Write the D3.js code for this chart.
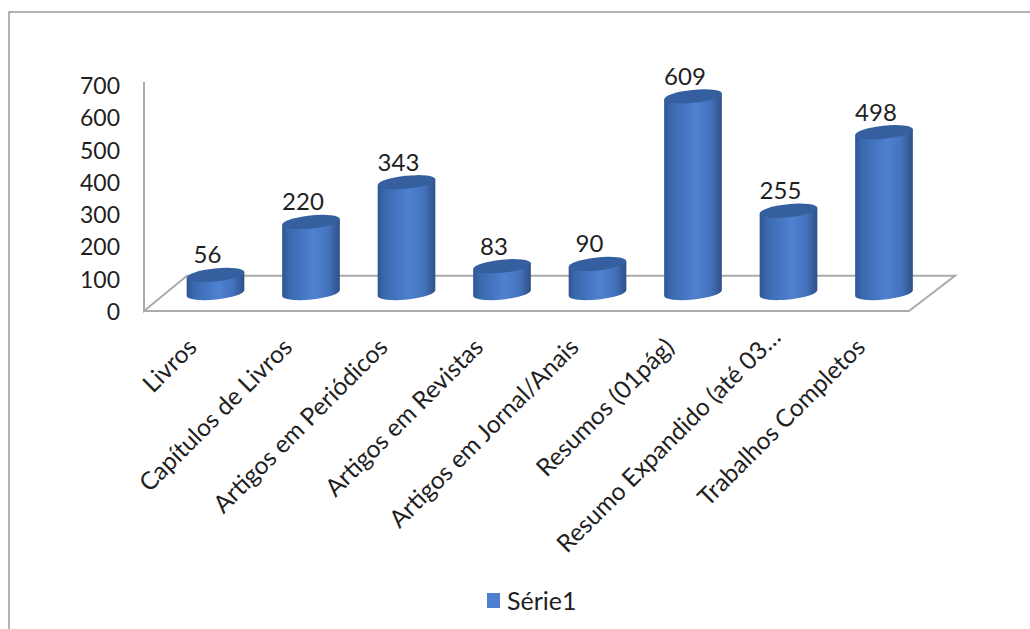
<!DOCTYPE html>
<html>
<head>
<meta charset="utf-8">
<script src="https://cdn.jsdelivr.net/npm/d3@7/dist/d3.min.js"></script>
<style>
  html, body { margin: 0; background: #fff; }
  svg { display: block; }
  text { font-family: Lato, "Open Sans", sans-serif; fill: #1f1f1f; }
</style>
</head>
<body>
<svg id="chart" width="1030" height="629"></svg>
<script>
const categories = ['Livros', 'Capítulos de Livros', 'Artigos em Periódicos', 'Artigos em Revistas',
  'Artigos em Jornal/Anais', 'Resumos (01pág)', 'Resumo Expandido (até 03…', 'Trabalhos Completos']
const values = [56, 220, 343, 83, 90, 609, 255, 498]
const yTicks = [0, 100, 200, 300, 400, 500, 600, 700]
const seriesName = 'Série1'

const svg = d3.select('#chart')
const x = d3.scaleBand().domain(categories).range([167.75, 931.75]).paddingInner(0.4).paddingOuter(0.2)
const y = d3.scaleLinear().domain([0, 700]).range([311, 85])

// the cylinders stand a bit behind the front edge of the floor
const depth = 18
const rx = 29, ry = 6.5, tilt = -6
const dx = rx * Math.cos(tilt * Math.PI / 180), dy = rx * Math.sin(tilt * Math.PI / 180)

const defs = svg.append('defs')
const grad = defs.append('linearGradient').attr('id', 'cyl')
grad.selectAll('stop')
  .data([[0, '#2f5593'], [0.12, '#3a69ae'], [0.55, '#4f81d2'], [0.8, '#4473bd'], [1, '#2f5086']])
  .enter().append('stop')
  .attr('offset', d => d[0])
  .attr('stop-color', d => d[1])

// border of the picture
svg.append('path')
  .attr('d', 'M9,629V12H1030')
  .attr('fill', 'none').attr('stroke', '#999').attr('stroke-width', 1.5)

// wall and floor
svg.append('path')
  .attr('d', `M144,${y(700) - 3}V311L187,${y(100) - 3}H955L909,311H144`)
  .attr('fill', 'none').attr('stroke', '#aaa').attr('stroke-width', 2)

// y tick labels
svg.append('g').selectAll('text')
  .data(yTicks)
  .enter().append('text')
  .attr('x', 120).attr('y', d => y(d))
  .attr('text-anchor', 'end').attr('dominant-baseline', 'central')
  .attr('font-size', 23)
  .text(d => d)

const rows = categories.map((c, i) => ({ c, v: values[i], cx: x(c) + x.bandwidth() / 2 }))

const bars = svg.append('g').selectAll('g')
  .data(rows)
  .enter().append('g')

bars.append('path')
  .attr('fill', 'url(#cyl)')
  .attr('d', d => {
    const t = y(d.v) - depth, b = y(0) - depth
    return `M${d.cx - dx},${t - dy}L${d.cx + dx},${t + dy}L${d.cx + dx},${b + dy}` +
      `A${rx},${ry} ${tilt} 0 1 ${d.cx - dx},${b - dy}Z`
  })

bars.append('ellipse')
  .attr('rx', rx).attr('ry', ry)
  .attr('fill', '#365f9f')
  .attr('transform', d => `translate(${d.cx},${y(d.v) - depth}) rotate(${tilt})`)

// value labels sit left of the bar centre
bars.append('text')
  .attr('x', d => d.cx - 8).attr('y', d => y(d.v) - depth - 21)
  .attr('text-anchor', 'middle').attr('dominant-baseline', 'central')
  .attr('font-size', 24)
  .text(d => d.v)

// category labels, the cut one ends a bit further up
svg.append('g').selectAll('text')
  .data(rows)
  .enter().append('text')
  .attr('text-anchor', 'end').attr('dominant-baseline', 'central')
  .attr('font-size', 24.5)
  .attr('transform', d => {
    const cut = d.c.endsWith('…')
    return `translate(${d.cx - 24 + (cut ? 11 : 0)},${342 - (cut ? 10 : 0)}) rotate(-45)`
  })
  .text(d => d.c)

// legend
svg.append('rect').attr('x', 487).attr('y', 593).attr('width', 13).attr('height', 15).attr('fill', '#4f7fcf')
svg.append('text').attr('x', 507).attr('y', 600)
  .attr('dominant-baseline', 'central').attr('font-size', 25)
  .text(seriesName)
</script>
</body>
</html>
